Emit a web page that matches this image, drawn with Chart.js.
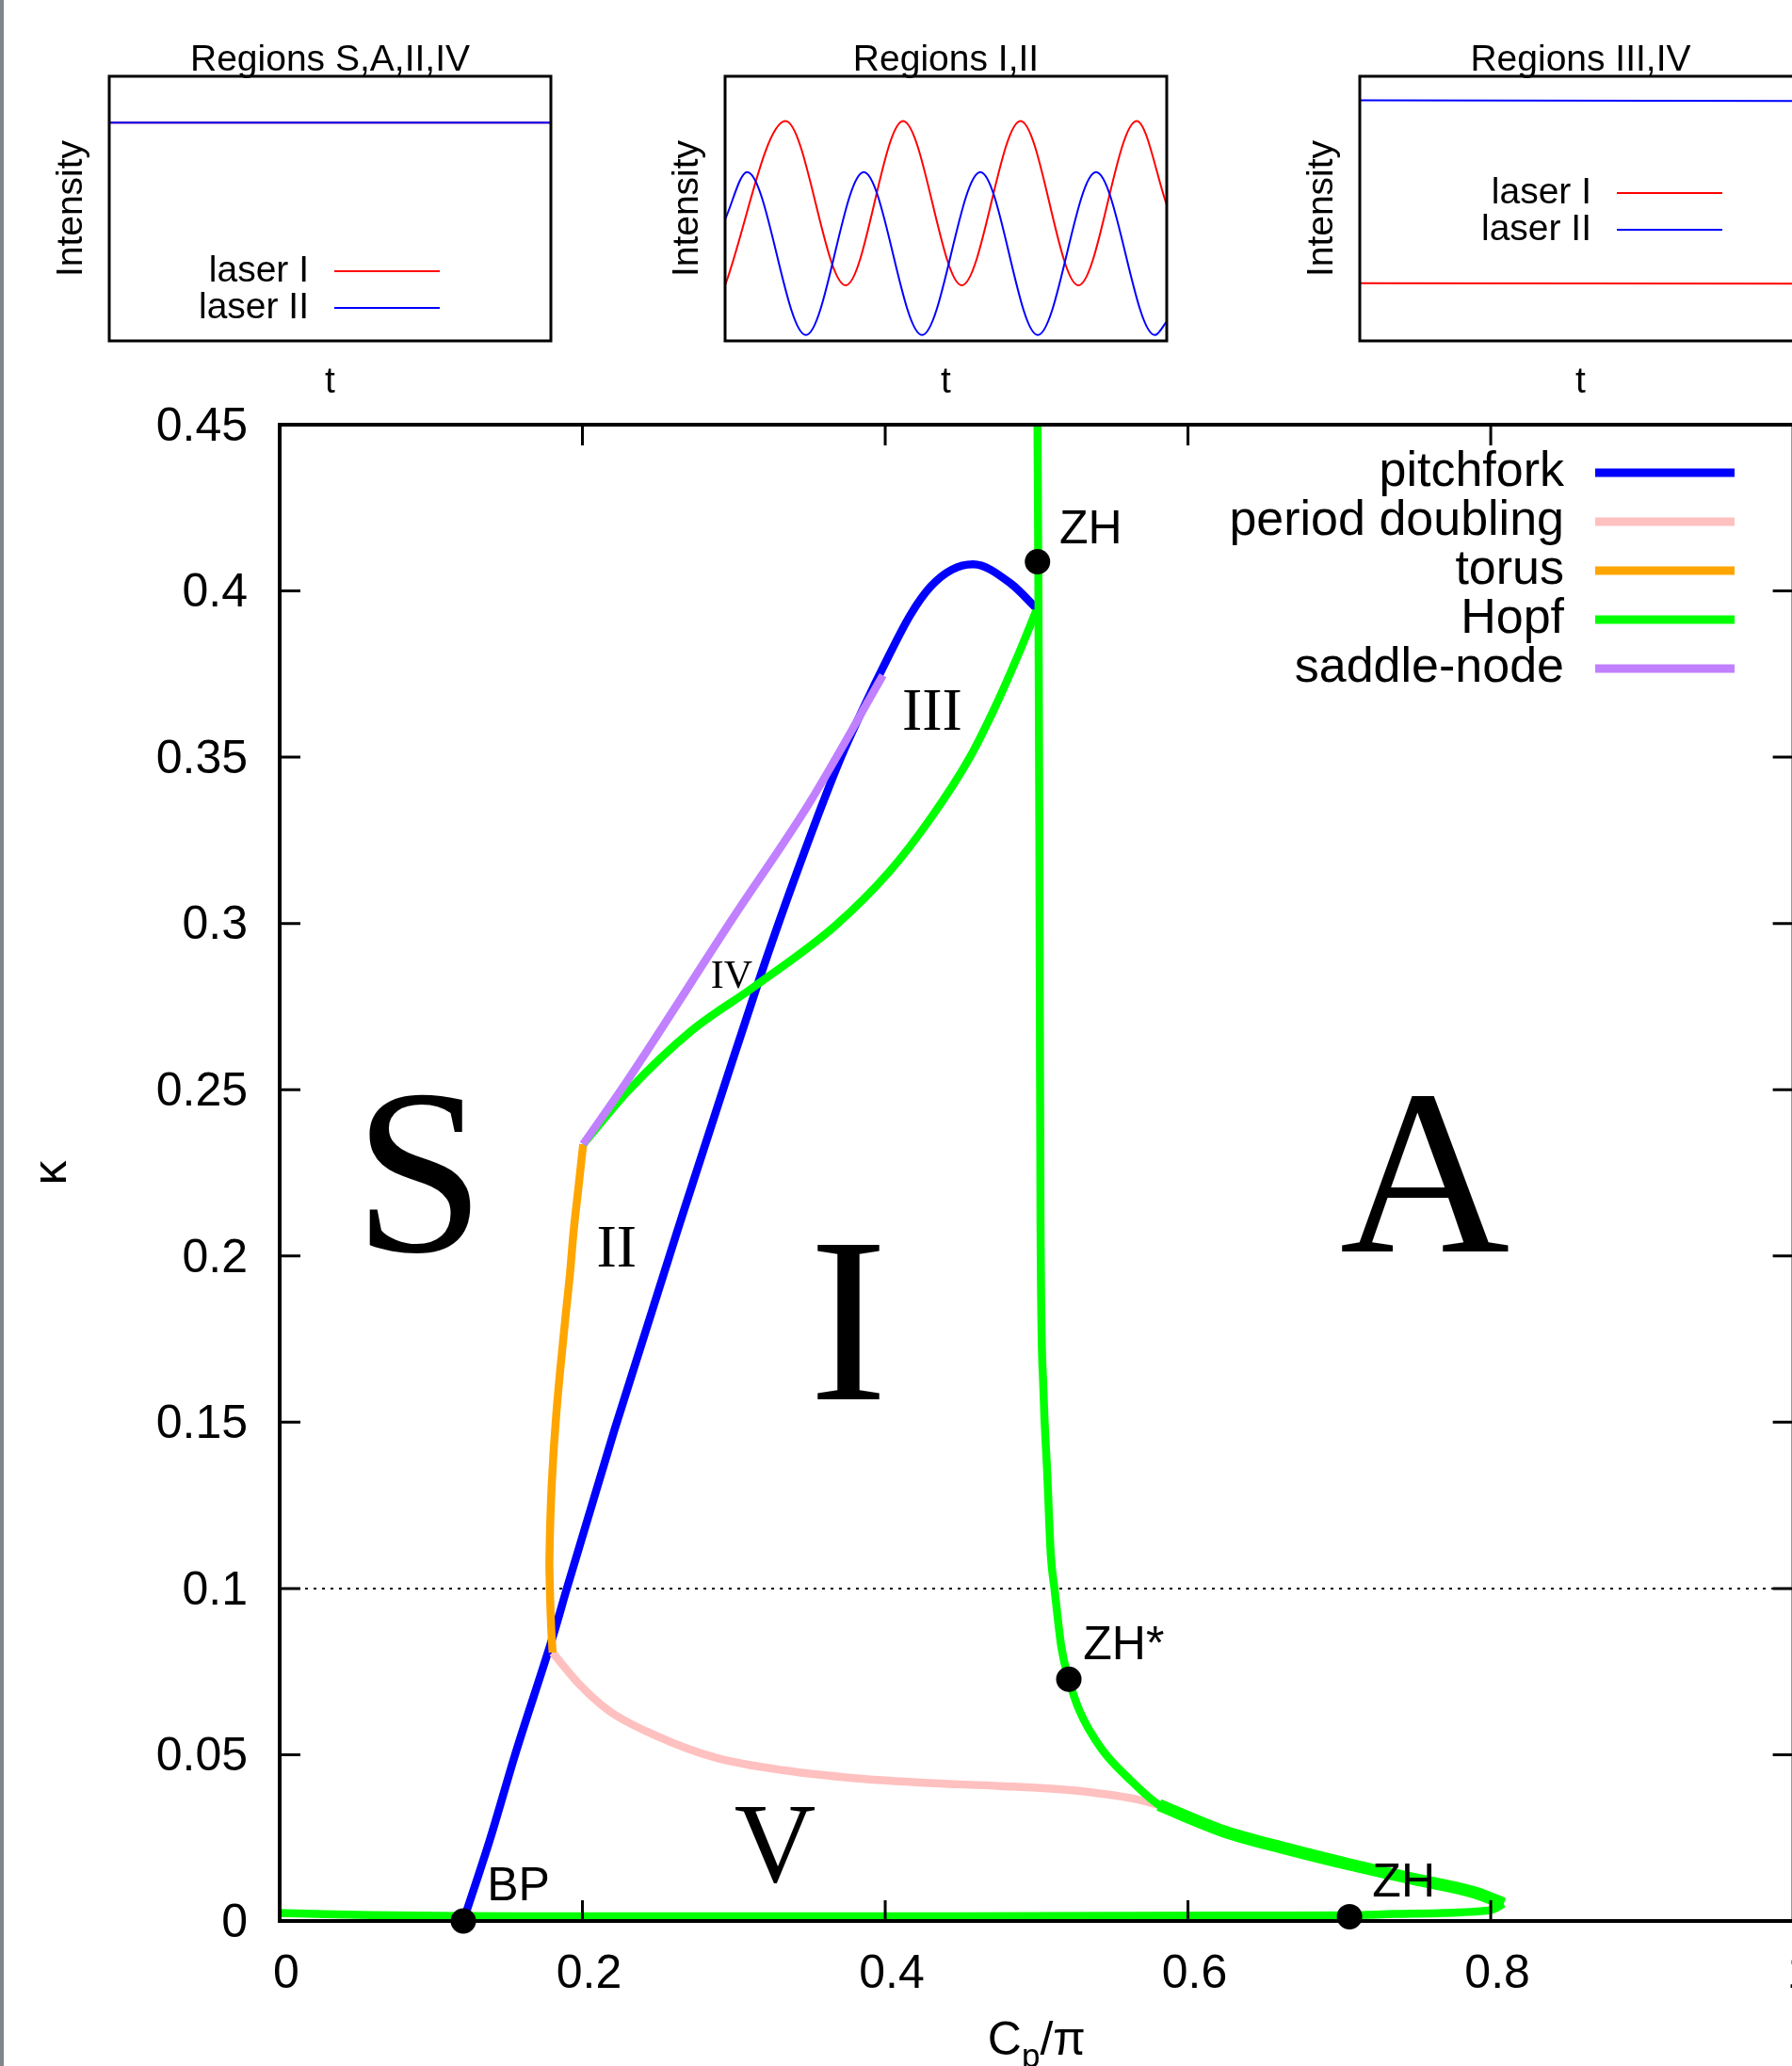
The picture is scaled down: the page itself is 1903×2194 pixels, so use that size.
<!DOCTYPE html>
<html>
<head>
<meta charset="utf-8">
<script src="https://cdn.jsdelivr.net/npm/chart.js@4.4.1/dist/chart.umd.min.js"></script>
<style>
  html, body { margin: 0; padding: 0; background: #fff; }
  #page { position: relative; width: 1903px; height: 2194px; overflow: hidden; background: #fff; }
  #page canvas { position: absolute; top: 0; }
  #edge { position: absolute; left: 0; top: 0; width: 4px; height: 2194px; background: #80868b; }
</style>
</head>
<body>
<div id="page">
  <canvas id="main" width="1960" height="2194" style="left:0"></canvas>
  <canvas id="inset1"></canvas>
  <canvas id="inset2"></canvas>
  <canvas id="inset3"></canvas>
  <div id="edge"></div>
</div>
<script>
// ---- inset time traces (t and intensity, both 0..1 of the box)
const steadyT = [0, 1];
const steadyLaser1 = [0.825, 0.825];
const steadyLaser2 = [0.825, 0.825];

const waveRedT = [0.000, 0.137, 0.273, 0.403, 0.536, 0.669, 0.800, 0.932, 1.000];
const waveRedV = [0.210, 0.831, 0.210, 0.831, 0.210, 0.831, 0.210, 0.831, 0.514];
const waveBlueT = [0.000, 0.050, 0.183, 0.314, 0.446, 0.578, 0.708, 0.840, 0.973, 1.000];
const waveBlueV = [0.459, 0.638, 0.022, 0.638, 0.022, 0.638, 0.022, 0.638, 0.022, 0.073];

const lockedLaser1 = [0.218, 0.216];
const lockedLaser2 = [0.909, 0.907];

// ---- bifurcation curves (Cp/pi, kappa)
const pitchforkX = [0.1213, 0.1389, 0.1555, 0.1813, 0.1897, 0.2210, 0.2674, 0.2943, 0.3166, 0.3388, 0.3690, 0.3860, 0.4000, 0.4165, 0.4300, 0.4440, 0.4580, 0.4830, 0.4998];
const pitchforkY = [0.0000, 0.0245, 0.0500, 0.0868, 0.1000, 0.1475, 0.2142, 0.2520, 0.2829, 0.3118, 0.3480, 0.3652, 0.3783, 0.3927, 0.4013, 0.4064, 0.4080, 0.4022, 0.3948];

const periodDoublingX = [0.1803, 0.1969, 0.2176, 0.2488, 0.2881, 0.3333, 0.3809, 0.4285, 0.4760, 0.5237, 0.5461, 0.5650, 0.5808];
const periodDoublingY = [0.0807, 0.0717, 0.0632, 0.0557, 0.0491, 0.0453, 0.0429, 0.0415, 0.0406, 0.0393, 0.0381, 0.0367, 0.0349];

const torusX = [0.2005, 0.1972, 0.1943, 0.1917, 0.1887, 0.1828, 0.1797, 0.1782, 0.1785, 0.1793, 0.1803];
const torusY = [0.2336, 0.2199, 0.2080, 0.1944, 0.1812, 0.1529, 0.1312, 0.1095, 0.1000, 0.0887, 0.0807];

// Hopf: from the top down the near-vertical branch, round the tip at 0.81 and back along kappa ~ 0
const hopfX = [0.5006, 0.5012, 0.5018, 0.5026, 0.5045, 0.5070, 0.5094, 0.5118, 0.5165, 0.5213, 0.5284, 0.5427, 0.5617, 0.5808, 0.6240, 0.6654, 0.7068, 0.7483, 0.7898, 0.8085];
const hopfY = [0.4500, 0.4000, 0.3300, 0.2100, 0.1600, 0.1350, 0.1100, 0.1000, 0.0820, 0.0727, 0.0632, 0.0519, 0.0425, 0.0349, 0.0269, 0.0217, 0.0170, 0.0127, 0.0085, 0.0052];
// the stretch right of the period-doubling end is drawn heavier in the original
const hopfHeavyX = [0.5808, 0.6240, 0.6654, 0.7068, 0.7483, 0.7898, 0.8085];
const hopfHeavyY = [0.0349, 0.0269, 0.0217, 0.0170, 0.0127, 0.0085, 0.0052];
const hopfBaseX = [0.8085, 0.8000, 0.7690, 0.7359, 0.7068, 0.6240, 0.5000, 0.4000, 0.3000, 0.2000, 0.1200, 0.0600, 0.0000];
const hopfBaseY = [0.0052, 0.0033, 0.0024, 0.0021, 0.0017, 0.0016, 0.0015, 0.0014, 0.0014, 0.0014, 0.0015, 0.0018, 0.0024];
const hopfUpperX = [0.2005, 0.2305, 0.2722, 0.3132, 0.3667, 0.4028, 0.4306, 0.4556, 0.4723, 0.4876, 0.4998];
const hopfUpperY = [0.2336, 0.2498, 0.2678, 0.2809, 0.2992, 0.3156, 0.3320, 0.3497, 0.3648, 0.3805, 0.3941];

const saddleNodeX = [0.2005, 0.2305, 0.2985, 0.3500, 0.3985];
const saddleNodeY = [0.2336, 0.2533, 0.3010, 0.3363, 0.3746];

const levelX = [0, 1];
const levelY = [0.1, 0.1];

// codimension-two points and their labels (label = left end / baseline)
const pointNames = ['BP', 'ZH', 'ZH*', 'ZH'];
const pointX = [0.1213, 0.5006, 0.5213, 0.7067];
const pointY = [0.0000, 0.4088, 0.0727, 0.0013];
const pointLabelX = [0.1370, 0.5151, 0.5308, 0.7218];
const pointLabelY = [0.0061, 0.4144, 0.0788, 0.0074];

// region names (centre / baseline)
const regionNames = ['S', 'A', 'I', 'II', 'III', 'IV', 'V'];
const regionX = [0.0922, 0.7564, 0.3757, 0.2225, 0.4310, 0.2985, 0.3273];
const regionY = [0.2013, 0.2013, 0.1568, 0.1968, 0.3583, 0.2807, 0.0119];
const regionFontPx = [250, 250, 250, 64, 64, 42, 120];

const yTicks = { min: 0, max: 0.45, step: 0.05 };
const xTicks = { min: 0, max: 1, step: 0.2 };

const SANS = '"Liberation Sans", Arial, Helvetica, sans-serif';
const SERIF = '"Liberation Serif", "Times New Roman", serif';
Chart.defaults.font.family = SANS;
Chart.defaults.color = '#000';

function pts(xs, ys) { return xs.map((x, i) => ({ x: x, y: ys[i] })); }

//--- plugins
const frame = {
  id: 'frame',
  afterDatasetsDraw(chart, args, o) {
    const { ctx, chartArea: a, scales } = chart;
    ctx.save();
    ctx.strokeStyle = '#000';
    if (o.tickLength) {
      ctx.lineWidth = o.tickWidth;
      ctx.beginPath();
      scales.x.ticks.forEach(t => {
        const p = scales.x.getPixelForValue(t.value);
        if (p - a.left < 2 || a.right - p < 2) return;
        ctx.moveTo(p, a.bottom); ctx.lineTo(p, a.bottom - o.tickLength);
        ctx.moveTo(p, a.top); ctx.lineTo(p, a.top + o.tickLength);
      });
      scales.y.ticks.forEach(t => {
        const p = scales.y.getPixelForValue(t.value);
        if (p - a.top < 2 || a.bottom - p < 2) return;
        ctx.moveTo(a.left, p); ctx.lineTo(a.left + o.tickLength, p);
        ctx.moveTo(a.right, p); ctx.lineTo(a.right - o.tickLength, p);
      });
      ctx.stroke();
    }
    ctx.lineWidth = o.width;
    ctx.strokeRect(a.left, a.top, a.right - a.left, a.bottom - a.top);
    ctx.restore();
  }
};

// gnuplot-like key: right aligned text, line sample to its right
const keyBox = {
  id: 'keyBox',
  afterDraw(chart, args, o) {
    if (!o.show) return;
    const { ctx, chartArea: a } = chart;
    const items = chart.data.datasets.filter(d => d.label && !d.noKey);
    ctx.save();
    ctx.font = o.size + 'px ' + SANS;
    ctx.textAlign = 'right';
    ctx.textBaseline = 'middle';
    ctx.fillStyle = '#000';
    items.forEach((d, i) => {
      const x = a.left + o.right, y = a.top + o.top + i * o.step;
      ctx.fillText(d.label, x, y);
      ctx.strokeStyle = d.borderColor;
      ctx.lineWidth = o.lineWidth;
      ctx.beginPath();
      ctx.moveTo(x + o.gap, y);
      ctx.lineTo(x + o.gap + o.len, y);
      ctx.stroke();
    });
    ctx.restore();
  }
};

const plotText = {
  id: 'plotText',
  afterDatasetsDraw(chart) {
    const { ctx, chartArea: a, scales: { x, y } } = chart;
    ctx.save();
    ctx.fillStyle = '#000';
    ctx.textBaseline = 'alphabetic';
    ctx.textAlign = 'center';
    regionNames.forEach((s, i) => {
      ctx.font = regionFontPx[i] + 'px ' + SERIF;
      ctx.fillText(s, x.getPixelForValue(regionX[i]), y.getPixelForValue(regionY[i]));
    });
    ctx.textAlign = 'left';
    ctx.font = '50px ' + SANS;
    pointNames.forEach((s, i) => {
      ctx.fillText(s, x.getPixelForValue(pointLabelX[i]), y.getPixelForValue(pointLabelY[i]));
    });
    // x title  C_p / pi
    const big = '50px ' + SANS, small = '35px ' + SANS;
    ctx.font = big;
    const wC = ctx.measureText('C').width, wR = ctx.measureText('/\u03c0').width;
    ctx.font = small;
    const wP = ctx.measureText('p').width;
    const base = a.bottom + 142;
    let x0 = (a.left + a.right) / 2 - (wC + wP + wR) / 2;
    ctx.font = big; ctx.fillText('C', x0, base);
    ctx.font = small; ctx.fillText('p', x0 + wC, base + 13);
    ctx.font = big; ctx.fillText('/\u03c0', x0 + wC + wP, base);
    ctx.restore();
  }
};

//--- main diagram
function curve(label, xs, ys, color, width, order, extra) {
  return Object.assign({
    label: label, data: pts(xs, ys), showLine: true, borderColor: color, backgroundColor: color,
    borderWidth: width, pointRadius: 0, cubicInterpolationMode: 'monotone', order: order, clip: false,
    borderJoinStyle: 'round'
  }, extra || {});
}

new Chart(document.getElementById('main'), {
  type: 'scatter',
  data: {
    datasets: [
      curve('pitchfork', pitchforkX, pitchforkY, '#0000ff', 8.5, 5),
      curve('period doubling', periodDoublingX, periodDoublingY, '#ffc0c0', 8.5, 4),
      curve('torus', torusX, torusY, '#ffa500', 8.5, 3, { cubicInterpolationMode: 'default', tension: 0.4 }),
      curve('Hopf', hopfX, hopfY, '#00ff00', 8.5, 2),
      curve('saddle-node', saddleNodeX, saddleNodeY, '#c080ff', 8.5, 1),
      curve('Hopf', hopfHeavyX, hopfHeavyY, '#00ff00', 13, 2, { noKey: true }),
      curve('Hopf', hopfBaseX, hopfBaseY, '#00ff00', 8.5, 2, { noKey: true, cubicInterpolationMode: 'default', tension: 0.3 }),
      curve('Hopf', hopfUpperX, hopfUpperY, '#00ff00', 8.5, 2, { noKey: true }),
      curve('', levelX, levelY, '#000000', 2, 6, { cubicInterpolationMode: 'default', tension: 0, borderDash: [3, 6] }),
      { label: '', data: pts(pointX, pointY), pointRadius: 13.5, pointBackgroundColor: '#000',
        pointBorderWidth: 0, order: 0, clip: false }
    ]
  },
  options: {
    responsive: false,
    animation: false,
    events: [],
    layout: { padding: { left: 0, top: 451, right: 1960 - 1904.6, bottom: 0 } },
    plugins: {
      legend: { display: false },
      tooltip: { enabled: false },
      frame: { width: 4, tickLength: 22, tickWidth: 3 },
      keyBox: { show: true, size: 52, right: 1364, top: 51, step: 52, gap: 33, len: 148, lineWidth: 9 }
    },
    scales: {
      x: {
        type: 'linear', min: xTicks.min, max: xTicks.max,
        ticks: { stepSize: xTicks.step, font: { size: 50 }, padding: 27, labelOffset: 7,
          callback: v => String(+v.toFixed(2)) },
        grid: { display: false, drawTicks: false },
        border: { display: false },
        afterFit: s => { s.height = 154; }
      },
      y: {
        min: yTicks.min, max: yTicks.max,
        ticks: { stepSize: yTicks.step, font: { size: 50 }, padding: 34, labelOffset: 3,
          callback: v => String(+v.toFixed(2)) },
        grid: { display: false, drawTicks: false },
        border: { display: false },
        title: { display: true, text: '\u03ba', font: { size: 52, lineHeight: 1 }, padding: { top: 30, bottom: 0 } },
        afterFit: s => { s.width = 297; }
      }
    }
  },
  plugins: [frame, plotText, keyBox]
});

//--- insets
function insetChart(id, boxLeft, title, series, key) {
  const boxTop = 81, boxW = 469, boxH = 281, fs = 39, titleLh = 0.85;
  const padL = 10, yW = fs + 20, xH = fs + 25;
  const W = padL + yW + boxW + 10, H = 440;
  const cv = document.getElementById(id);
  cv.width = W; cv.height = H;
  cv.style.left = (boxLeft - padL - yW) + 'px';
  new Chart(cv, {
    type: 'line',
    data: {
      datasets: series.map(s => ({
        label: s.label, data: pts(s.t, s.v), borderColor: s.color, backgroundColor: s.color,
        borderWidth: 2, pointRadius: 0, order: s.order,
        cubicInterpolationMode: s.smooth ? 'monotone' : 'default'
      }))
    },
    options: {
      responsive: false,
      animation: false,
      events: [],
      layout: { padding: { left: padL, right: 10, top: boxTop - fs * titleLh, bottom: H - boxTop - boxH - xH } },
      plugins: {
        legend: { display: false },
        tooltip: { enabled: false },
        title: { display: true, text: title, fullSize: false, font: { size: fs, lineHeight: titleLh, weight: 'normal' },
          padding: { top: 0, bottom: 0 } },
        frame: { width: 3, tickLength: 0 },
        keyBox: key
      },
      scales: {
        x: {
          type: 'linear', min: 0, max: 1,
          ticks: { display: false }, grid: { display: false, drawTicks: false }, border: { display: false },
          title: { display: true, text: 't', font: { size: fs, lineHeight: 1 }, padding: { top: 25, bottom: 0 } }
        },
        y: {
          min: 0, max: 1,
          ticks: { display: false }, grid: { display: false, drawTicks: false }, border: { display: false },
          title: { display: true, text: 'Intensity', font: { size: fs, lineHeight: 1 }, padding: { top: 0, bottom: 20 } }
        }
      }
    },
    plugins: [frame, keyBox]
  });
}

insetChart('inset1', 116, 'Regions S,A,II,IV', [
  { label: 'laser I', t: steadyT, v: steadyLaser1, color: '#ff0000', order: 1 },
  { label: 'laser II', t: steadyT, v: steadyLaser2, color: '#0000ff', order: 0 }
], { show: true, size: 39, right: 212, top: 207, step: 39, gap: 27, len: 112, lineWidth: 2 });

insetChart('inset2', 770, 'Regions I,II', [
  { label: 'laser I', t: waveRedT, v: waveRedV, color: '#ff0000', order: 1, smooth: true },
  { label: 'laser II', t: waveBlueT, v: waveBlueV, color: '#0000ff', order: 0, smooth: true }
], { show: false });

insetChart('inset3', 1444, 'Regions III,IV', [
  { label: 'laser I', t: steadyT, v: lockedLaser1, color: '#ff0000', order: 1 },
  { label: 'laser II', t: steadyT, v: lockedLaser2, color: '#0000ff', order: 0 }
], { show: true, size: 39, right: 246, top: 124, step: 39, gap: 27, len: 112, lineWidth: 2 });
</script>
</body>
</html>
